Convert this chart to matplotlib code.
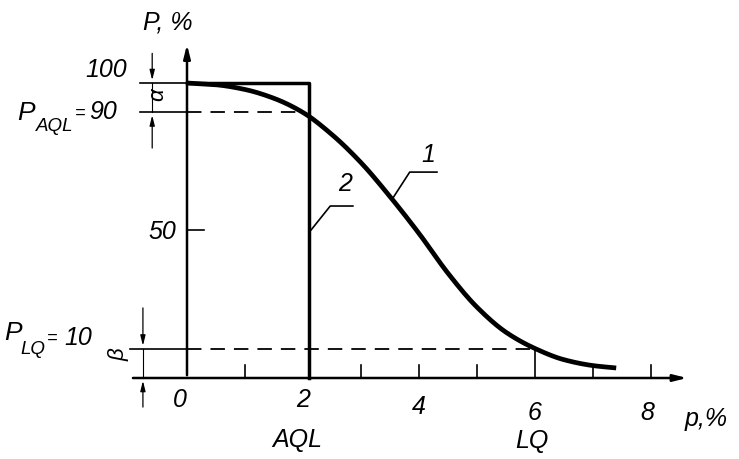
import matplotlib
matplotlib.use("Agg")
import matplotlib.pyplot as plt
import numpy as np

# OC curve (1) values
p_vals = [0.0, 0.5, 1.0, 1.5, 2.0, 2.5, 3.0, 3.5, 4.0, 4.5, 5.0, 5.5, 6.0, 6.5, 7.0, 7.4]
P_vals = [100, 99.4, 97.8, 94.8, 90, 82.5, 73, 61.5, 49, 35.5, 24, 15.5, 10, 6.2, 4.2, 3.4]

# Ideal OC curve (2)
ideal_p = [0.0, 2.1, 2.1]
ideal_P = [100, 100, 0]

x_ticks = [0, 2, 4, 6, 8]
x_minor = [1, 3, 5, 7]
AQL, LQ = 2, 6
P_AQL, P_LQ = 90, 10

fig = plt.figure(figsize=(7.39, 4.59), dpi=100)
ax = fig.add_axes([0, 0, 1, 1])
ax.set_xlim(-187/58, (739-187)/58)
ax.set_ylim(-81/2.95, 378/2.95)
ax.axis('off')

k = 'black'
fkw = dict(family='Liberation Sans', style='italic', color=k)


def pchip(x, y, xn):
    x = np.asarray(x, float); y = np.asarray(y, float)
    h = np.diff(x); d = np.diff(y)/h
    m = np.zeros_like(y)
    for i in range(1, len(y)-1):
        if d[i-1]*d[i] > 0:
            w1 = 2*h[i]+h[i-1]; w2 = h[i]+2*h[i-1]
            m[i] = (w1+w2)/(w1/d[i-1]+w2/d[i])
    m[0] = d[0]; m[-1] = d[-1]
    out = np.empty_like(xn)
    for j, t in enumerate(xn):
        i = min(np.searchsorted(x, t, side='right')-1, len(x)-2)
        s = (t-x[i])/h[i]
        h00 = 2*s**3-3*s**2+1; h10 = s**3-2*s**2+s
        h01 = -2*s**3+3*s**2; h11 = s**3-s**2
        out[j] = h00*y[i]+h10*h[i]*m[i]+h01*y[i+1]+h11*h[i]*m[i+1]
    return out


xs = np.linspace(p_vals[0], p_vals[-1], 300)
ys = pchip(p_vals, P_vals, xs)
ax.plot(xs, ys, color=k, lw=3.4, solid_capstyle='butt')

# curve 2
ax.plot(ideal_p, ideal_P, color=k, lw=2.5)

# axes
ax.annotate('', xy=(0, 114), xytext=(0, 0),
            arrowprops=dict(arrowstyle='-|>,head_length=0.8,head_width=0.2', color=k, lw=1.8))
ax.annotate('', xy=(8.67, 0), xytext=(-0.98, 0),
            arrowprops=dict(arrowstyle='-|>,head_length=0.8,head_width=0.2', color=k, lw=1.8))
for t in x_minor + [4, 8]:
    ax.plot([t, t], [0, 4.5], color=k, lw=1.2)
ax.plot([LQ, LQ], [0, P_LQ], color=k, lw=1.2)
ax.plot([0, 0.3], [50, 50], color=k, lw=1.2)

# reference lines
ax.plot([-0.81, 0], [100, 100], color=k, lw=1.2)
ax.plot([-0.81, 0], [P_AQL, P_AQL], color=k, lw=1.2)
ax.plot([0, AQL], [P_AQL, P_AQL], color=k, lw=1.3, dashes=(8, 5))
ax.plot([-0.98, 0], [P_LQ, P_LQ], color=k, lw=1.2)
ax.plot([0, LQ], [P_LQ, P_LQ], color=k, lw=1.3, dashes=(8, 5))

# dimension arrows
ah = dict(arrowstyle='-|>,head_length=0.6,head_width=0.15', color=k, lw=0.9)
ax.annotate('', xy=(-0.6, 100), xytext=(-0.6, 111), arrowprops=ah)
ax.annotate('', xy=(-0.6, 90), xytext=(-0.6, 77), arrowprops=ah)
ax.plot([-0.6, -0.6], [90, 100], color=k, lw=0.8)
ax.annotate('', xy=(-0.76, 10), xytext=(-0.76, 24.7), arrowprops=ah)
ax.annotate('', xy=(-0.76, 0), xytext=(-0.76, -10.8), arrowprops=ah)
ax.plot([-0.76, -0.76], [0, 10], color=k, lw=0.8)
ax.text(-0.5, 96, 'α', rotation=90, ha='center', va='center', fontsize=16, **fkw)
ax.text(-1.17, 7.8, 'β', rotation=90, ha='center', va='center', fontsize=16, **fkw)

# texts
fs = 18
ax.text(-0.33, 120.5, 'P, %', ha='center', va='center', fontsize=fs, **fkw)
ax.text(-1.03, 104.5, '100', ha='right', va='center', fontsize=fs, **fkw)
# P_AQL = 90
ax.text(-2.93, 89.8, 'P', ha='left', va='center', fontsize=19, **fkw)
ax.text(-2.6, 85.3, 'AQL', ha='left', va='center', fontsize=13.5, **fkw)
ax.text(-1.93, 89.6, '=', ha='left', va='center', fontsize=13, **fkw)
ax.text(-1.69, 90.2, '90', ha='left', va='center', fontsize=fs, **fkw)
ax.text(-0.19, 49.5, '50', ha='right', va='center', fontsize=fs, **fkw)
# P_LQ = 10
ax.text(-3.16, 15.1, 'P', ha='left', va='center', fontsize=19, **fkw)
ax.text(-2.88, 9.6, 'LQ', ha='left', va='center', fontsize=13.5, **fkw)
ax.text(-2.42, 13.3, '=', ha='left', va='center', fontsize=13, **fkw)
ax.text(-2.12, 13.6, '10', ha='left', va='center', fontsize=fs, **fkw)

ax.text(-0.12, -7.5, '0', ha='center', va='center', fontsize=fs, **fkw)
ax.text(2.0, -7.5, '2', ha='center', va='center', fontsize=fs, **fkw)
ax.text(1.9, -21, 'AQL', ha='center', va='center', fontsize=fs, **fkw)
ax.text(4.0, -9.8, '4', ha='center', va='center', fontsize=fs, **fkw)
ax.text(6.0, -12, '6', ha='center', va='center', fontsize=fs, **fkw)
ax.text(5.95, -21.4, 'LQ', ha='center', va='center', fontsize=fs, **fkw)
ax.text(7.93, -12, '8', ha='center', va='center', fontsize=fs, **fkw)
ax.text(8.95, -14, 'p,%', ha='center', va='center', fontsize=fs, **fkw)

# curve labels with leaders
ax.text(4.16, 75.6, '1', ha='center', va='center', fontsize=fs, **fkw)
ax.plot([3.55, 3.84, 4.31], [61.0, 69.8, 69.8], color=k, lw=1.2)
ax.text(2.72, 65.8, '2', ha='center', va='center', fontsize=fs, **fkw)
ax.plot([2.14, 2.47, 2.86], [50.2, 58.3, 58.3], color=k, lw=1.2)

fig.savefig('out.png', dpi=100)
